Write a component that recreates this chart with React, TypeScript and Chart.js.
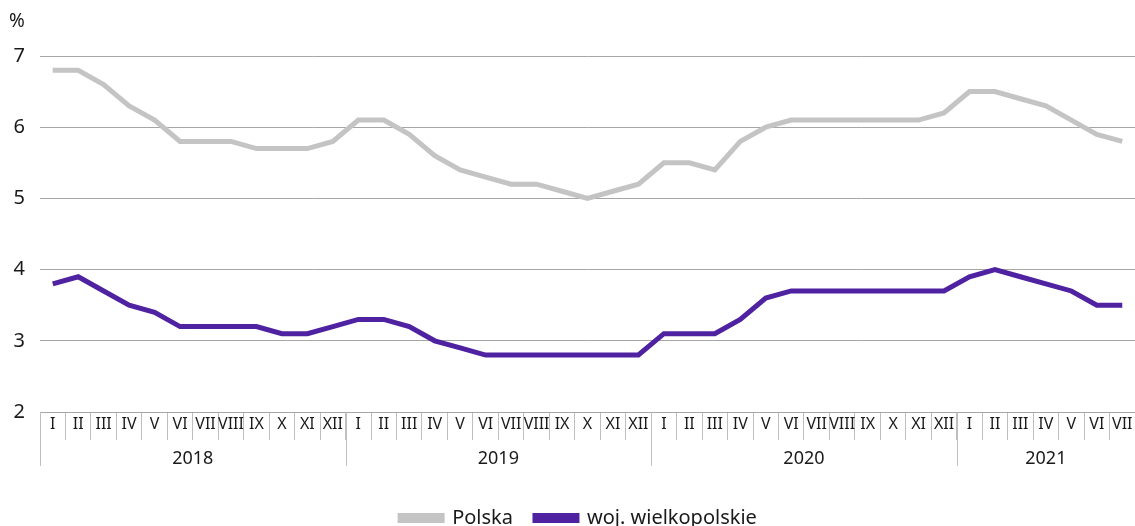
import React, { useEffect, useRef } from "react";
import { Chart, registerables } from "chart.js";

Chart.register(...registerables);

const months = ["I", "II", "III", "IV", "V", "VI", "VII", "VIII", "IX", "X", "XI", "XII"];
const years = ["2018", "2019", "2020", "2021"];
const monthsPerYear = [12, 12, 12, 7];

const polska = [
  6.8, 6.8, 6.6, 6.3, 6.1, 5.8, 5.8, 5.8, 5.7, 5.7, 5.7, 5.8,
  6.1, 6.1, 5.9, 5.6, 5.4, 5.3, 5.2, 5.2, 5.1, 5.0, 5.1, 5.2,
  5.5, 5.5, 5.4, 5.8, 6.0, 6.1, 6.1, 6.1, 6.1, 6.1, 6.1, 6.2,
  6.5, 6.5, 6.4, 6.3, 6.1, 5.9, 5.8,
];
const wielkopolskie = [
  3.8, 3.9, 3.7, 3.5, 3.4, 3.2, 3.2, 3.2, 3.2, 3.1, 3.1, 3.2,
  3.3, 3.3, 3.2, 3.0, 2.9, 2.8, 2.8, 2.8, 2.8, 2.8, 2.8, 2.8,
  3.1, 3.1, 3.1, 3.3, 3.6, 3.7, 3.7, 3.7, 3.7, 3.7, 3.7, 3.7,
  3.9, 4.0, 3.9, 3.8, 3.7, 3.5, 3.5,
];

const labels: string[] = [];
monthsPerYear.forEach((n) => {
  for (let i = 0; i < n; i++) labels.push(months[i]);
});

const FONT = "'Noto Sans', sans-serif";
const TEXT = "#1a1a1a";

const yearPlugin = {
  id: "yearRow",
  afterDraw(chart: any) {
    const ctx = chart.ctx;
    const x = chart.scales.x;
    const half = (x.getPixelForValue(1) - x.getPixelForValue(0)) / 2;
    const top = x.top;
    ctx.save();
    ctx.strokeStyle = "#bfbfbf";
    ctx.lineWidth = 1;
    ctx.fillStyle = TEXT;
    ctx.font = `18px ${FONT}`;
    ctx.textAlign = "center";
    ctx.textBaseline = "middle";
    let start = 0;
    years.forEach((yr, i) => {
      const n = monthsPerYear[i];
      const left = x.getPixelForValue(start) - half;
      const right = x.getPixelForValue(start + n - 1) + half;
      ctx.beginPath();
      ctx.moveTo(Math.round(left) + 0.5, top);
      ctx.lineTo(Math.round(left) + 0.5, top + 54);
      ctx.stroke();
      ctx.fillText(yr, (left + Math.min(right, chart.width)) / 2, top + 47);
      start += n;
    });
    ctx.font = `19px ${FONT}`;
    ctx.textAlign = "left";
    ctx.fillText("%", 9, 22);
    ctx.restore();
  },
};

const legendShift = {
  id: "legendShift",
  afterLayout(chart: any) {
    const lg = chart.legend;
    if (!lg) return;
    lg.left += 11;
    lg.right += 11;
    lg.top += 12;
    lg.bottom += 12;
  },
};

export default function App() {
  const ref = useRef<HTMLCanvasElement>(null);
  useEffect(() => {
    document.body.style.margin = "0";
    const chart = new Chart(ref.current!, {
      type: "line",
      data: {
        labels,
        datasets: [
          {
            label: "Polska",
            data: polska,
            borderColor: "#c4c4c4",
            backgroundColor: "#c4c4c4",
            borderWidth: 5,
            pointRadius: 0,
            tension: 0,
          },
          {
            label: "woj. wielkopolskie",
            data: wielkopolskie,
            borderColor: "#4e22a0",
            backgroundColor: "#4e22a0",
            borderWidth: 5,
            pointRadius: 0,
            tension: 0,
          },
        ],
      },
      options: {
        animation: false,
        responsive: false,
        layout: { padding: { top: 56, left: 0, right: 0, bottom: 0 } },
        plugins: {
          tooltip: { enabled: false },
          legend: {
            position: "bottom",
            labels: {
              boxWidth: 42,
              boxHeight: 5,
              padding: 22,
              color: TEXT,
              font: { family: FONT, size: 20 },
            },
          },
        },
        scales: {
          x: {
            offset: true,
            grid: {
              offset: true,
              drawOnChartArea: false,
              drawTicks: true,
              tickLength: 28,
              color: "#bfbfbf",
            },
            border: { display: true, color: "#a6a6a6", width: 1 },
            ticks: {
              autoSkip: false,
              maxRotation: 0,
              minRotation: 0,
              padding: -25,
              color: TEXT,
              font: { family: FONT, size: 16 },
            },
            afterFit: (s: any) => {
              s.height = 62;
            },
          },
          y: {
            min: 2,
            max: 7,
            ticks: {
              stepSize: 1,
              padding: 15,
              color: TEXT,
              font: { family: FONT, size: 20 },
            },
            grid: { color: "#a6a6a6", drawTicks: false },
            border: { display: false },
            afterFit: (s: any) => {
              s.width = 40;
            },
          },
        },
      },
      plugins: [yearPlugin, legendShift],
    });
    return () => chart.destroy();
  }, []);
  return <canvas ref={ref} width={1135} height={526} style={{ display: "block" }} />;
}
